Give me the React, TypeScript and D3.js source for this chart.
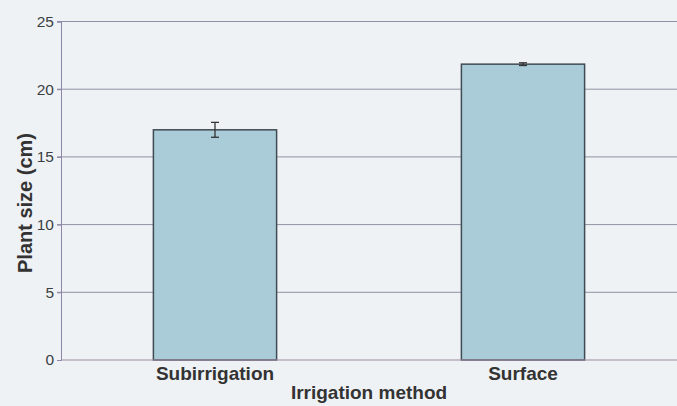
import { useEffect, useRef } from 'react';
import * as d3 from 'd3';

const methods = ['Subirrigation', 'Surface'];
const plantSize = [17.0, 21.85];
const errors = [0.55, 0.1];
const yTicks = [0, 5, 10, 15, 20, 25];

function App() {
  const svgRef = useRef<SVGSVGElement>(null);

  useEffect(() => {
    const w = 677;
    const h = 406;
    const svg = d3.select(svgRef.current)
      .attr('width', w)
      .attr('height', h)
      .style('background', '#eff2f5');
    svg.selectAll('*').remove();

    const left = 61, right = 677, top = 21.5, bottom = 360;
    const font = '"Liberation Sans", Arial, sans-serif';

    const x = d3.scaleBand().domain(methods).range([left, right]).paddingInner(0.6).paddingOuter(0.3);
    const y = d3.scaleLinear().domain([0, 25]).range([bottom, top]);

    // gridlines
    svg.append('g').selectAll('line').data(yTicks.slice(1)).join('line')
      .attr('x1', left - 4).attr('x2', right)
      .attr('y1', d => y(d)).attr('y2', d => y(d))
      .attr('stroke', '#8f93a3').attr('stroke-width', 1);

    // y axis
    const yAxis = d3.axisLeft(y).tickValues(yTicks).tickSize(4).tickPadding(3);
    const ga = svg.append('g').attr('transform', `translate(${left},0)`).call(yAxis);
    ga.select('.domain').attr('stroke', '#8a86a8');
    ga.selectAll('.tick line').attr('stroke', '#8a86a8');
    ga.selectAll('.tick text').attr('font-family', font).attr('font-size', 15.5).attr('fill', '#3a3f44');

    // bars
    svg.append('g').selectAll('rect').data(plantSize).join('rect')
      .attr('x', (d, i) => x(methods[i])!)
      .attr('y', d => y(d))
      .attr('width', x.bandwidth())
      .attr('height', d => bottom - y(d))
      .attr('fill', '#a9ccd8')
      .attr('stroke', '#3f4b52')
      .attr('stroke-width', 1.5);

    // error bars
    const eg = svg.append('g').attr('stroke', '#333').attr('stroke-width', 1.3);
    plantSize.forEach((d, i) => {
      const cx = x(methods[i])! + x.bandwidth() / 2;
      eg.append('line').attr('x1', cx).attr('x2', cx).attr('y1', y(d + errors[i])).attr('y2', y(d - errors[i]));
      eg.append('line').attr('x1', cx - 4).attr('x2', cx + 4).attr('y1', y(d + errors[i])).attr('y2', y(d + errors[i]));
      eg.append('line').attr('x1', cx - 4).attr('x2', cx + 4).attr('y1', y(d - errors[i])).attr('y2', y(d - errors[i]));
    });

    // bottom axis line
    svg.append('line').attr('x1', left).attr('x2', right).attr('y1', bottom).attr('y2', bottom)
      .attr('stroke', '#a08aa4').attr('stroke-width', 1.2);

    // x labels
    svg.append('g').selectAll('text').data(methods).join('text')
      .attr('x', d => x(d)! + x.bandwidth() / 2)
      .attr('y', 380)
      .attr('text-anchor', 'middle')
      .attr('font-family', font).attr('font-size', 19).attr('font-weight', 'bold').attr('fill', '#333')
      .text(d => d);

    svg.append('text')
      .attr('x', (left + right) / 2).attr('y', 399)
      .attr('text-anchor', 'middle')
      .attr('font-family', font).attr('font-size', 19).attr('font-weight', 'bold').attr('fill', '#333')
      .text('Irrigation method');

    svg.append('text')
      .attr('transform', `translate(32,203) rotate(-90)`)
      .attr('text-anchor', 'middle')
      .attr('font-family', font).attr('font-size', 20).attr('font-weight', 'bold').attr('fill', '#333')
      .text('Plant size (cm)');
  }, []);

  return (
    <div>
      <svg ref={svgRef} style={{ position: 'absolute', left: 0, top: 0 }}></svg>
    </div>
  );
}

export default App;
